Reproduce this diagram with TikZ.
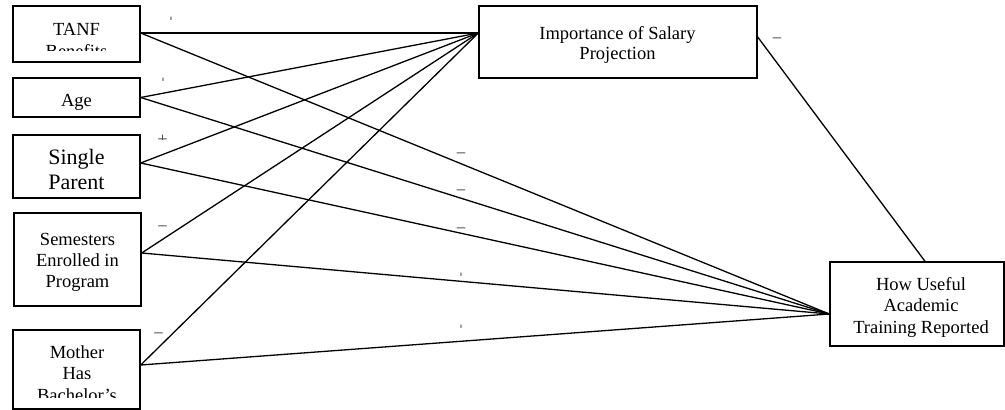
\documentclass[tikz,border=0pt]{standalone}
\usepackage{fontspec}
\setmainfont{Liberation Serif}
\begin{document}
\begin{tikzpicture}[x=1pt,y=-1pt,
  box/.style={draw, line width=1.4pt, inner sep=0pt, rectangle},
  txt/.style={font=\fontsize{18.5}{21}\selectfont, inner sep=0pt, anchor=base},
  bigtxt/.style={font=\fontsize{22}{25}\selectfont, inner sep=0pt, anchor=base},
  sgn/.style={font=\fontsize{18.5}{21}\selectfont, inner sep=0pt, text=black!75, anchor=north},
  link/.style={line width=1.3pt}]
\useasboundingbox (0,0) rectangle (1005,410);

% boxes
\node[box, minimum width=127pt, minimum height=56pt] (tanf) at (76.5,34) {};
\node[box, minimum width=127pt, minimum height=39pt] (age) at (76.5,97.5) {};
\node[box, minimum width=127pt, minimum height=63pt] (single) at (76.5,166.5) {};
\node[box, minimum width=127pt, minimum height=93pt] (sem) at (77.5,259.5) {};
\node[box, minimum width=127pt, minimum height=79pt] (mother) at (76.5,369.5) {};
\node[box, minimum width=278pt, minimum height=72pt] (salary) at (618,42) {};
\node[box, minimum width=174pt, minimum height=84pt] (useful) at (917,304) {};

% connection points
\coordinate (salIn) at ([yshift=9pt]salary.west);
\coordinate (useIn) at ([yshift=-10pt]useful.west);

% connectors
\draw[link] ([yshift=1pt]tanf.east) -- (salIn);
\draw[link] ([yshift=1pt]tanf.east) -- (useIn);
\draw[link] (age.east) -- (salIn);
\draw[link] (age.east) -- (useIn);
\draw[link] ([yshift=3.5pt]single.east) -- (salIn);
\draw[link] ([yshift=3.5pt]single.east) -- (useIn);
\draw[link] ([yshift=6.5pt]sem.east) -- (salIn);
\draw[link] ([yshift=6.5pt]sem.east) -- (useIn);
\draw[link] ([yshift=4.5pt]mother.east) -- (salIn);
\draw[link] ([yshift=4.5pt]mother.east) -- (useIn);
\draw[link] ([yshift=5pt]salary.east) -- ([xshift=8pt]useful.north);

% box texts
\node[txt] (tanf1) at (76.5,35) {TANF};
\begin{scope}
  \clip (14,40) rectangle (139,50);
  \node[txt] (tanf2) at (76.5,57) {Benefits};
\end{scope}
\node[txt] (age1) at (76.5,106) {Age};
\node[bigtxt] (single1) at (76.5,164) {Single};
\node[bigtxt] (single2) at (76.5,189) {Parent};
\node[txt] (sem1) at (77.5,245.5) {Semesters};
\node[txt] (sem2) at (77.5,266.5) {Enrolled in};
\node[txt] (sem3) at (77.5,287.5) {Program};
\node[txt] (mother1) at (77,358) {Mother};
\node[txt] (mother2) at (77,379) {Has};
\begin{scope}
  \clip (14,383) rectangle (139,397.8);
  \node[txt] (mother3) at (77,401) {Bachelor’s};
\end{scope}
\node[txt] (sal1) at (617.5,39) {Importance of Salary};
\node[txt] (sal2) at (617.5,59.5) {Projection};
\node[txt] (use1) at (921,290.5) {How Useful};
\node[txt] (use2) at (921,311.5) {Academic};
\node[txt] (use3) at (921,333) {Training Reported};

% signs (clipped plus glyphs and minus signs)
\begin{scope}
  \clip (150,10) rectangle (190,19.8);
  \node[sgn] (s1) at (171,16.8) {+};
\end{scope}
\begin{scope}
  \clip (150,70) rectangle (180,80.5);
  \node[sgn] (s2) at (163,77.5) {+};
\end{scope}
\begin{scope}
  \clip (150,128) rectangle (180,139.7);
  \node[sgn] (s3) at (162.5,135) {+};
\end{scope}
\node[sgn] (s4) at (162.5,225.6) {−};
\node[sgn] (s5) at (158.5,332.6) {−};
\node[sgn] (s6) at (777,37.6) {−};
\node[sgn] (s7) at (461,152.6) {−};
\node[sgn] (s8) at (461,189.6) {−};
\node[sgn] (s9) at (461,227.6) {−};
\begin{scope}
  \clip (440,265) rectangle (480,275.5);
  \node[sgn] (s10) at (461,272.5) {+};
\end{scope}
\begin{scope}
  \clip (440,318) rectangle (480,327.5);
  \node[sgn] (s11) at (461,324.5) {+};
\end{scope}
\end{tikzpicture}
\end{document}
